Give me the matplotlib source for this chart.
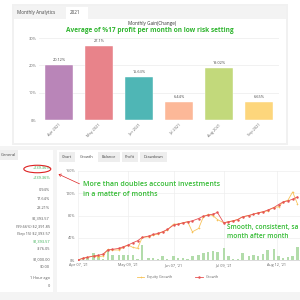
import matplotlib.pyplot as plt
from matplotlib.patches import Rectangle, Ellipse, FancyArrowPatch

# ---- data: monthly gain bars
months = ['Apr 2021', 'May 2021', 'Jun 2021', 'Jul 2021', 'Aug 2021', 'Sep 2021']
gains = [20.12, 27.1, 15.63, 6.44, 19.02, 6.65]
gain_labels = ['20.12%', '27.1%', '15.63%', '6.44%', '19.02%', '6.65%']
bar_colors = ['#b985b8', '#e8838a', '#4fb6b5', '#fcb898', '#c2d97b', '#fdd67c']

# ---- data: growth chart (days since Apr 07)
days = [0, 3, 6, 10, 13, 16, 19, 22, 26, 29, 32, 35, 38, 41, 45, 48, 51, 54, 57, 61,
        64, 67, 70, 73, 77, 80, 83, 86, 89, 93, 96, 99, 102, 105, 109, 112, 115, 118,
        121, 125, 128, 131, 134, 137, 140]
growth = [0, 3, 4.8, 7.2, 8.4, 10.7, 17.9, 19.1, 20.9, 23.9, 26.9, 31, 34.6, 40.6, 43,
          46, 47.8, 50.7, 54.9, 62.7, 64.5, 66.9, 68.7, 70.4, 74.6, 78.8, 80.6, 82.4,
          85.4, 66.9, 68.7, 70.4, 72.8, 77.6, 80, 82.4, 84.8, 86.6, 89.6, 94.3, 99.7,
          104.5, 106.3, 109.3, 113.4]
equity = [0, 3, 4.8, 7.2, 6, 7.2, 19, 18, 18, 22.7, 26.9, 22.7, 20.9, 40.6, 41.8,
          44.8, 46.6, 50.7, 53.7, 64.5, 64.5, 66.9, 68.7, 50.7, 56.7, 77.6, 81.8, 80,
          72.8, 66.9, 68.7, 70.4, 72.8, 77.6, 80, 82.4, 84.8, 86.6, 88.4, 94.3, 95.5,
          104.5, 107.5, 122.4, 101.5]
daily = [0, 2, 4, 12, 8, 2, 18, 9, 9, 9, 9, 9, 1, 27, 4, 3, 2, 7, 2, 7, 3, 3, 2, 7, 9,
         13, 15, 16, 15, 22, 7, 2, 2, 13, 7, 9, 7, 10, 18, 20, 8, 4, 5, 7, 24]
tick_days = [0, 32, 61, 93, 127]
tick_names = ["Apr 07, '21", "May 09, '21", "Jun 07, '21", "Jul 09, '21", "Aug 12, '21"]

# ---- data: account stats
stats = ['+139.36%', '+139.36%', '0.94%', '17.64%', '23.21%', '$2,393.57',
         '(99.66%) $2,391.85', '(Sep 15) $2,393.57', '$1,393.57', '-$76.05',
         '$1,000.00', '$0.00', '1 Hour ago', '0']
stat_y = [168, 178, 190, 199, 208, 218, 226, 234, 241, 249, 259, 267, 278, 286]
stat_green = [True, True, False, False, False, False, False, False, True, False,
              False, False, False, False]

plt.rcParams['font.family'] = ['Open Sans', 'DejaVu Sans']
W = H = 300.0
fig = plt.figure(figsize=(3, 3), dpi=100)
fig.patch.set_facecolor('white')


def px_axes(x0, y0, x1, y1):
    return fig.add_axes([x0 / W, 1 - y1 / H, (x1 - x0) / W, (y1 - y0) / H])


def rect(x0, y0, x1, y1, fc, ec='none', lw=0.5, z=-2):
    fig.patches.append(Rectangle((x0 / W, 1 - y1 / H), (x1 - x0) / W, (y1 - y0) / H,
                                 transform=fig.transFigure, fc=fc, ec=ec, lw=lw, zorder=z))


def txt(x, y, s, **kw):
    fig.text(x / W, 1 - y / H, s, **kw)


# backgrounds
rect(0, 146, 300, 300, '#f4f4f4')
rect(12, 4, 288, 145, '#f1f1f1')
rect(14, 6, 286, 143, 'white')
rect(14, 6, 286, 19, '#f3f3f3')
rect(66, 7, 88, 19, 'white')
txt(17, 12.5, 'Monthly Analytics', fontsize=3.3, color='#444444', va='center')
txt(70, 12.5, '2021', fontsize=3.3, color='#444444', va='center')

rect(0, 150, 53, 292, 'white')
rect(0, 150, 18, 160, '#eeeeee')
txt(1, 155, 'General', fontsize=3, color='#444444', va='center')
rect(57, 150, 300, 292, 'white')
for (a, b, name, sel) in [(59, 75, 'Chart', False), (77, 97, 'Growth', True),
                          (98, 120, 'Balance', False), (122, 138, 'Profit', False),
                          (140, 167, 'Drawdown', False)]:
    rect(a, 152, b, 162, 'white' if sel else '#eeeeee')
    txt((a + b) / 2, 157, name, fontsize=2.8, color='#444444', ha='center', va='center')

# stats column
for s, y, g in zip(stats, stat_y, stat_green):
    txt(50, y, s, fontsize=2.8, ha='right', va='center',
        color='#2eaa4a' if g else '#555555')
for y in [184, 213, 254, 273]:
    rect(0, y, 53, y + 0.4, '#e6e6e6')

# ---- bar chart
ax = px_axes(39, 38, 279, 120)
ax.bar(range(len(months)), gains, width=0.7, color=bar_colors, edgecolor='white', lw=0.3, zorder=2)
for i, (v, lab) in enumerate(zip(gains, gain_labels)):
    ax.text(i, v + 1.2, lab, ha='center', va='bottom', fontsize=2.8, color='#444444')
ax.set_ylim(0, 30)
ax.set_xlim(-0.5, 5.5)
ax.set_yticks([0, 10, 20, 30])
ax.set_yticklabels(['0%', '10%', '20%', '30%'])
ax.set_xticks(range(len(months)))
ax.set_xticklabels(months, rotation=45, ha='right', rotation_mode='anchor')
ax.tick_params(length=0, labelsize=2.8, labelcolor='#666666', pad=2)
ax.grid(axis='y', color='#ececec', lw=0.5)
for sp in ax.spines.values():
    sp.set_visible(False)
ax.set_facecolor('none')
ax.set_axisbelow(True)
txt(152, 23, 'Monthly Gain(Change)', fontsize=3.3, color='#333333', ha='center', va='center')
txt(150, 31, 'Average of %17 profit per month on low risk setting', fontsize=4.7,
    color='#2fb52f', ha='center', va='center', fontweight='bold')

# ---- growth chart
gx = px_axes(78, 171, 300, 260)
gx.bar(days, daily, width=1.5, color='#b2dcaa', zorder=1)
gx.plot(days, equity, color='#f7c35a', lw=0.6, marker='+', ms=1.5, mew=0.4, zorder=2,
        label='Equity Growth')
gx.plot(days, growth, color='#e65353', lw=0.6, marker='.', ms=1.5, zorder=3, label='Growth')
gx.set_xlim(0, 141.7)
gx.set_ylim(0, 160)
gx.set_yticks([0, 40, 80, 120, 160])
gx.set_yticklabels(['0%', '40%', '80%', '120%', '160%'])
gx.set_xticks(tick_days)
gx.set_xticklabels(tick_names)
gx.tick_params(length=0, labelsize=2.7, labelcolor='#666666', pad=2)
gx.grid(color='#eeeeee', lw=0.5)
for sp in gx.spines.values():
    sp.set_visible(False)
gx.spines['bottom'].set_visible(True)
gx.spines['bottom'].set_color('#cccccc')
gx.spines['bottom'].set_linewidth(0.5)
gx.set_facecolor('none')
gx.set_axisbelow(True)
gx.legend(loc='upper center', bbox_to_anchor=(0.45, -0.13), ncol=2, frameon=False,
          fontsize=2.7, handlelength=2, columnspacing=6, labelcolor='#666666')

# annotations
green = '#33bb33'
txt(83, 185, 'More than doubles account investments', fontsize=5.0, color=green,
    va='center', fontweight='semibold')
txt(83, 194.5, 'in a matter of months', fontsize=5.0, color=green, va='center',
    fontweight='semibold')
txt(227, 227, 'Smooth, consistent, sa', fontsize=4.7, color=green, va='center',
    fontweight='semibold')
txt(227, 236, 'month after month', fontsize=4.7, color=green, va='center',
    fontweight='semibold')
fig.patches.append(Ellipse((37.3 / W, 1 - 169 / H), 27 / W, 7.5 / H, transform=fig.transFigure,
                           fc='none', ec='#dd2222', lw=0.8, zorder=5))
fig.patches.append(FancyArrowPatch((82 / W, 1 - 185 / H), (56 / W, 1 - 173 / H),
                                   transform=fig.transFigure, arrowstyle='->,head_length=1.5,head_width=1',
                                   color='#dd2222', lw=0.5, zorder=5))

fig.savefig('out.png', dpi=100)
